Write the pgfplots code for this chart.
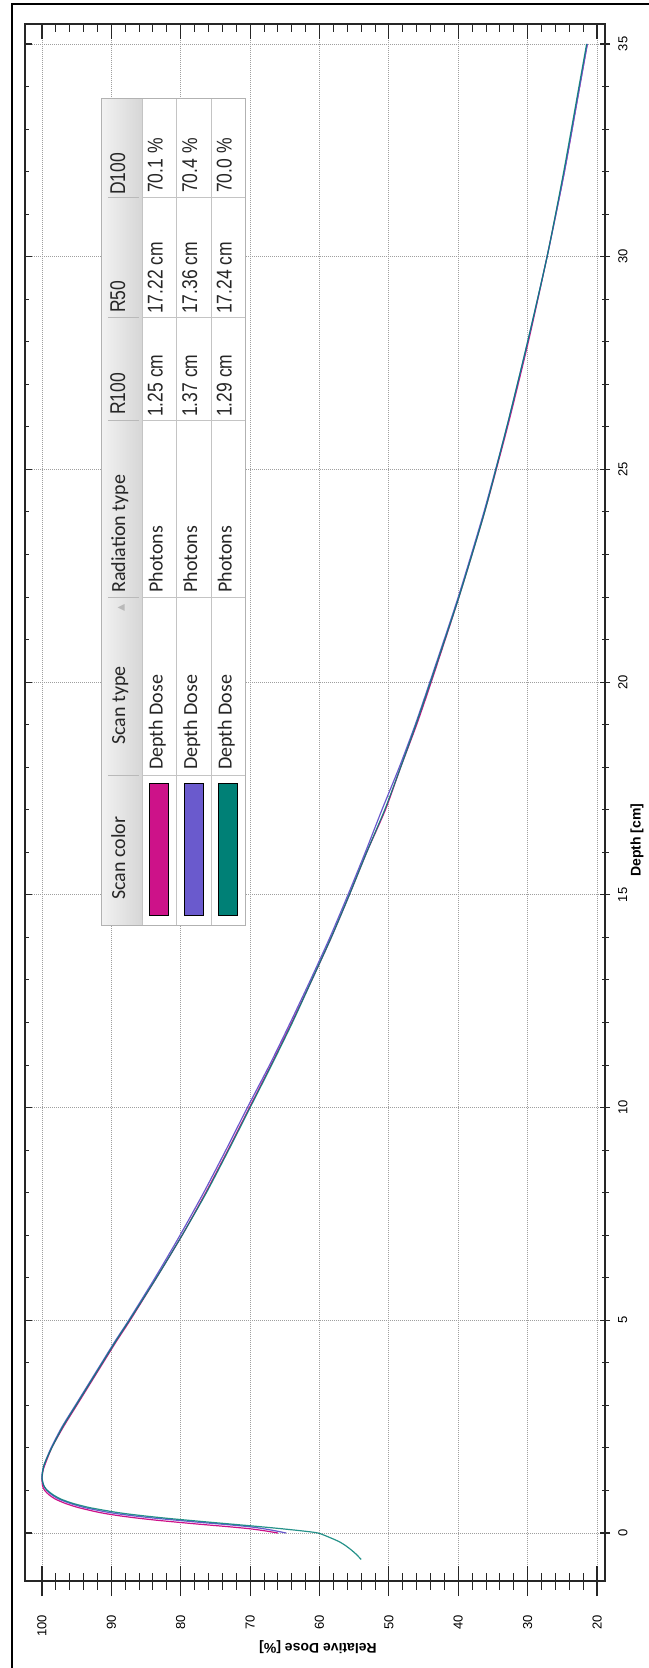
\documentclass[border=0pt]{standalone}
\usepackage{pgfplots}
\pgfplotsset{compat=1.18}
\usepackage{pgfplotstable}
\usepackage{fontspec}
\setmainfont{Liberation Sans}
\newfontfamily\narrowf[FakeStretch=0.82]{Liberation Sans}
\newfontfamily\carl{Carlito}
\newfontfamily\dejavu{DejaVu Sans}

\definecolor{cmag}{HTML}{CD1289}
\definecolor{cpur}{HTML}{6A5ACD}
\definecolor{cteal}{HTML}{008076}
\definecolor{tabline}{HTML}{C4C4C4}

\pgfplotstableread{
depth dose
0.00 66.0
0.05 67.8
0.10 70.0
0.15 73.2
0.20 76.8
0.25 80.2
0.30 83.4
0.35 86.2
0.40 88.6
0.45 90.6
0.50 92.2
0.60 94.8
0.70 96.7
0.80 98.1
0.90 99.0
1.00 99.6
1.10 99.9
1.25 100.0
1.50 99.8
2.00 98.6
2.50 96.9
3.00 95.0
3.50 93.1
4.00 91.2
4.50 89.3
5.00 87.3
6.00 83.5
7.00 79.8
8.00 76.4
9.00 73.2
10.00 70.1
11.00 67.0
12.00 64.0
13.00 61.1
14.00 58.3
15.00 55.7
16.00 53.2
17.00 50.5
18.00 48.3
19.00 46.0
20.00 43.9
22.00 39.9
24.00 36.2
26.00 32.9
28.00 29.9
30.00 27.2
32.00 24.7
34.00 22.5
35.00 21.4
}\magtab

\pgfplotstableread{
depth dose
0.00 64.8
0.05 66.3
0.10 68.0
0.15 70.2
0.20 73.5
0.25 77.2
0.30 80.5
0.35 83.8
0.40 86.6
0.45 89.0
0.50 90.9
0.60 93.9
0.70 96.0
0.80 97.6
0.90 98.6
1.00 99.3
1.10 99.7
1.20 99.9
1.37 100.0
1.60 99.7
2.00 98.7
2.50 97.1
3.00 95.2
3.50 93.3
4.00 91.4
4.50 89.5
5.00 87.5
6.00 83.7
7.00 80.1
8.00 76.7
9.00 73.5
10.00 70.4
11.00 67.2
12.00 64.2
13.00 61.3
14.00 58.5
15.00 55.9
16.00 53.4
17.00 51.0
18.00 48.5
19.00 46.2
20.00 44.1
22.00 40.0
24.00 36.3
26.00 33.0
28.00 30.0
30.00 27.2
32.00 24.7
34.00 22.5
35.00 21.4
}\purtab

\pgfplotstableread{
depth dose
-0.62 54.0
-0.50 54.7
-0.40 55.4
-0.30 56.2
-0.20 57.2
-0.10 58.6
0.00 60.2
0.05 62.5
0.10 65.4
0.15 68.6
0.20 72.0
0.25 75.5
0.30 78.9
0.35 82.2
0.40 85.1
0.45 87.7
0.50 89.8
0.60 93.2
0.70 95.6
0.80 97.3
0.90 98.4
1.00 99.2
1.10 99.7
1.29 100.0
1.60 99.7
2.00 98.6
2.50 97.0
3.00 95.1
3.50 93.2
4.00 91.3
4.50 89.4
5.00 87.4
6.00 83.5
7.00 79.8
8.00 76.3
9.00 73.1
10.00 70.0
11.00 66.9
12.00 63.9
13.00 61.1
14.00 58.3
15.00 55.7
16.00 53.2
17.00 50.6
18.00 48.3
19.00 46.1
20.00 44.0
22.00 39.9
24.00 36.2
26.00 33.0
28.00 30.0
30.00 27.2
32.00 24.8
34.00 22.6
35.00 21.5
}\tealtab

\pgfplotsset{
  base/.style={at={(18.75pt,-1185.75pt)}, anchor=south west,
    width=435pt, height=1167.75pt, scale only axis,
    x dir=reverse, xmin=18.85, xmax=102.45, ymin=-1.128, ymax=35.47,
    /pgf/number format/assume math mode=true,
    tick style={black!85, line width=0.9pt},
    minor tick style={line width=0.75pt}},
  noline/.style={axis line style={draw=none}},
}
\newcommand{\tickfont}{\fontsize{9.75}{11}\selectfont}
\newcommand{\tabn}{\narrowf\fontsize{16}{18}\selectfont}
\newcommand{\tabc}{\carl\fontsize{15}{18}\selectfont}

\begin{document}
\begin{tikzpicture}
\fill[white] (0,0) rectangle (486.75pt,-1251pt);
\path[use as bounding box] (0,0) rectangle (486.75pt,-1251pt);

% data, grid, frame
\begin{axis}[base,
  xtick={20,30,...,100}, ytick={0,5,...,35},
  xticklabels={}, yticklabels={},
  major tick length=0pt, tick style={draw=none},
  grid=major,
  major grid style={draw=gray!75, line width=0.6pt, dash pattern=on 0.75pt off 0.75pt},
  axis line style={black!85, line width=0.9pt},
  clip=true]
\addplot[cmag, line width=0.9pt, smooth, tension=0.4] table[x=dose,y=depth] {\magtab};
\addplot[cpur, line width=0.9pt, smooth, tension=0.4] table[x=dose,y=depth] {\purtab};
\addplot[cteal, line width=0.9pt, smooth, tension=0.4, opacity=0.85] table[x=dose,y=depth] {\tealtab};
\end{axis}

% bottom ticks and labels
\begin{axis}[base, noline, ytick=\empty,
  xtick={20,30,...,100}, minor x tick num=4, xtick pos=bottom,
  tick align=center, major tick length=22.5pt, minor tick length=12.75pt,
  xticklabel style={rotate=90, anchor=east, inner sep=0pt, font=\tickfont},
  xticklabel shift=14pt]
\end{axis}

% top ticks inward
\begin{axis}[base, noline, ytick=\empty,
  xtick={20,30,...,100}, minor x tick num=4, xtick pos=top, xticklabels={},
  tick align=inside, major tick length=11.25pt, minor tick length=6pt]
\end{axis}

% right ticks and labels
\begin{axis}[base, noline, xtick=\empty,
  ytick={0,5,...,35}, minor y tick num=4, ytick pos=right,
  tick align=center, major tick length=7.5pt, minor tick length=5.25pt,
  yticklabel style={rotate=90, anchor=north, inner sep=0pt, font=\tickfont},
  yticklabel shift=6pt]
\end{axis}

% left ticks inward
\begin{axis}[base, noline, xtick=\empty,
  ytick={0,5,...,35}, minor y tick num=4, ytick pos=left, yticklabels={},
  tick align=inside, major tick length=5.25pt, minor tick length=3pt]
\end{axis}

\begin{scope}[x=0.75pt,y=-0.75pt]
  % outer frame
  \draw[line width=1.9pt, black] (12,1700) -- (12,4) -- (700,4);
  % axis labels
  \node[rotate=180, font=\bfseries\fontsize{10.5}{12}\selectfont, inner sep=0pt] at (318,1647) {Relative Dose [\%]};
  \node[rotate=90, font=\bfseries\fontsize{10.5}{12}\selectfont, inner sep=0pt] at (637,840) {Depth [cm]};

  % table
  \fill[white] (101,98) rectangle (245,925);
  \shade[left color=gray!10, right color=gray!32] (101,98) rectangle (142,925);
  \draw[tabline] (142,98) -- (142,925);
  \draw[tabline] (176,98) -- (176,925);
  \draw[tabline] (211,98) -- (211,925);
  \foreach \yy in {197,317,420,597,775} {
    \draw[tabline] (142,\yy) -- (245,\yy);
    \draw[gray!55] (108,\yy) -- (139,\yy);
  }
  \draw[gray!60] (101,98) rectangle (245,925);
  % swatches
  \draw[black, fill=cmag] (149,783) rectangle (168,915);
  \draw[black, fill=cpur] (184,783) rectangle (203,915);
  \draw[black, fill=cteal] (218,783) rectangle (237,915);
  % headers
  \begin{scope}[every node/.style={rotate=90, anchor=mid west, inner sep=0pt, text=black!85}]
  \node[font=\tabn] at (121.5,195) {D100};
  \node[font=\tabn] at (121.5,313) {R50};
  \node[font=\tabn] at (121.5,415) {R100};
  \node[font=\tabc] at (121.5,593) {Radiation type};
  \node[font=\tabc] at (121.5,745) {Scan type};
  \node[font=\tabc] at (121.5,900) {Scan color};
  \node[font=\tabn] at (159,193) {70.1 \%};
  \node[font=\tabn] at (193.5,193) {70.4 \%};
  \node[font=\tabn] at (228,193) {70.0 \%};
  \node[font=\tabn] at (159,314) {17.22 cm};
  \node[font=\tabn] at (193.5,314) {17.36 cm};
  \node[font=\tabn] at (228,314) {17.24 cm};
  \node[font=\tabn] at (159,417) {1.25 cm};
  \node[font=\tabn] at (193.5,417) {1.37 cm};
  \node[font=\tabn] at (228,417) {1.29 cm};
  \node[font=\tabc] at (159,593) {Photons};
  \node[font=\tabc] at (193.5,593) {Photons};
  \node[font=\tabc] at (228,593) {Photons};
  \node[font=\tabc] at (159,770) {Depth Dose};
  \node[font=\tabc] at (193.5,770) {Depth Dose};
  \node[font=\tabc] at (228,770) {Depth Dose};
  \node[font=\dejavu\fontsize{7}{8}\selectfont, text=gray!55] at (120,612) {▲};
  \end{scope}
\end{scope}
\end{tikzpicture}
\end{document}
